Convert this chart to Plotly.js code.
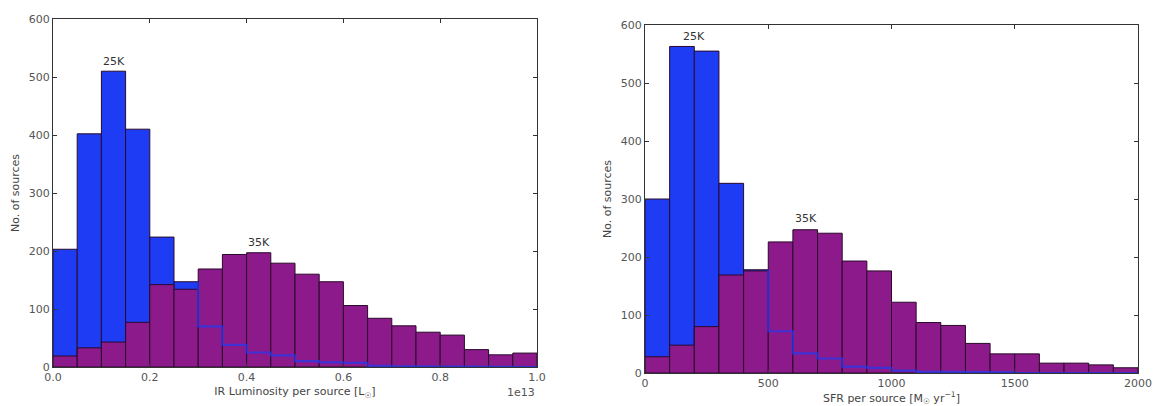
<!DOCTYPE html>
<html>
<head>
<meta charset="utf-8">
<script src="https://cdn.plot.ly/plotly-3.0.1.min.js"></script>
<style>html,body{margin:0;padding:0;background:#fff;}#chart{width:1161px;height:406px;}</style>
</head>
<body>
<div id="chart"></div>
<script>
// ---- Data ----
// Left panel: IR luminosity per source, bin edges in units of 1e13 L_sun
const lirEdges = [0.0,0.05,0.10,0.15,0.20,0.25,0.30,0.35,0.40,0.45,0.50,0.55,0.60,0.65,0.70,0.75,0.80,0.85,0.90,0.95,1.00];
const lir25K = [203,402,510,410,224,147,70,38,25,20,10,8,7,2,1,1,1,0,0,0];
const lir35K = [19,33,43,77,142,134,169,194,197,179,160,147,106,84,71,60,55,30,21,24];

// Right panel: SFR per source [M_sun/yr]
const sfrEdges = [0,100,200,300,400,500,600,700,800,900,1000,1100,1200,1300,1400,1500,1600,1700,1800,1900,2000];
const sfr25K = [300,563,555,327,178,72,34,25,11,9,4,2,2,1,1,0,0,0,0,0];
const sfr35K = [28,48,80,169,176,226,247,241,193,176,122,87,82,51,33,33,17,17,14,9];

const labels = {left:{a:"25K", b:"35K"}, right:{a:"25K", b:"35K"}};

// ---- Styles ----
const BLUE = "#1e3cf4";
const PURPLE = "#8d1a8b";
const EDGE = "#2a0a2a";
const FONT = "DejaVu Sans, sans-serif";
const TICKC = "#555";

function centers(e){ const c=[]; for(let i=0;i<e.length-1;i++) c.push((e[i]+e[i+1])/2); return c; }
function widths(e){ const w=[]; for(let i=0;i<e.length-1;i++) w.push(e[i+1]-e[i]); return w; }
// blue outline visible through the purple where 25K < 35K
function stepLine(e, a, b){
  let start = a.findIndex((v,i)=> v < b[i]);
  const xs=[], ys=[];
  if(start<0) return {x:xs,y:ys};
  xs.push(e[start]); ys.push(a[start-1] !== undefined ? Math.min(a[start-1], b[start]) : a[start]);
  for(let i=start;i<a.length;i++){ xs.push(e[i]); ys.push(a[i]); xs.push(e[i+1]); ys.push(a[i]); }
  return {x:xs,y:ys};
}

function panel(e, a, b, xa, ya){
  const c = centers(e), w = widths(e);
  const s = stepLine(e, a, b);
  return [
    {type:"bar", x:c, y:a, width:w, xaxis:xa, yaxis:ya, marker:{color:BLUE, line:{color:EDGE, width:1}}, hoverinfo:"x+y", showlegend:false},
    {type:"bar", x:c, y:b, width:w, xaxis:xa, yaxis:ya, marker:{color:PURPLE, line:{color:EDGE, width:1}}, hoverinfo:"x+y", showlegend:false},
    {type:"scatter", mode:"lines", x:s.x, y:s.y, xaxis:xa, yaxis:ya, line:{color:BLUE, width:2.2}, opacity:0.7, hoverinfo:"skip", showlegend:false}
  ];
}

const data = [].concat(
  panel(lirEdges, lir25K, lir35K, "x", "y"),
  panel(sfrEdges, sfr25K, sfr35K, "x2", "y2")
);

const W=1161, H=406;
function ax(extra){
  return Object.assign({
    showline:true, mirror:"ticks", linecolor:"#333", linewidth:1,
    ticks:"inside", ticklen:4, tickcolor:"#333", tickwidth:1,
    showgrid:false, zeroline:false, automargin:false,
    tickfont:{family:FONT, size:11, color:TICKC}
  }, extra);
}

const layout = {
  width:W, height:H,
  margin:{l:0,r:0,t:0,b:0},
  paper_bgcolor:"#fff", plot_bgcolor:"#fff",
  barmode:"overlay", bargap:0,
  font:{family:FONT, color:"#444"},
  xaxis: ax({domain:[53/W, 537/W], anchor:"y", range:[0,1], dtick:0.2, tick0:0, tickformat:".1f",
    title:{text:"IR Luminosity per source [L<sub>☉</sub>]", font:{family:FONT,size:11,color:"#444"}, standoff:4}}),
  yaxis: ax({domain:[1-367/H, 1-19/H], anchor:"x", range:[0,600], dtick:100,
    title:{text:"No. of sources", font:{family:FONT,size:11,color:"#444"}, standoff:6}}),
  xaxis2: ax({domain:[645/W, 1138/W], anchor:"y2", range:[0,2000], dtick:500, tick0:0,
    title:{text:"SFR per source [M<sub>☉</sub> yr<sup>−1</sup>]", font:{family:FONT,size:11,color:"#444"}, standoff:4}}),
  yaxis2: ax({domain:[1-373/H, 1-25/H], anchor:"x2", range:[0,600], dtick:100,
    title:{text:"No. of sources", font:{family:FONT,size:11,color:"#444"}, standoff:6}}),
  annotations:[
    {xref:"x", yref:"y", x:0.125, y:512, text:labels.left.a, showarrow:false, yanchor:"bottom", font:{family:FONT,size:11,color:"#333"}},
    {xref:"x", yref:"y", x:0.425, y:200, text:labels.left.b, showarrow:false, yanchor:"bottom", font:{family:FONT,size:11,color:"#333"}},
    {xref:"x2", yref:"y2", x:200, y:565, text:labels.right.a, showarrow:false, yanchor:"bottom", font:{family:FONT,size:11,color:"#333"}},
    {xref:"x2", yref:"y2", x:655, y:252, text:labels.right.b, showarrow:false, yanchor:"bottom", font:{family:FONT,size:11,color:"#333"}},
    {xref:"paper", yref:"paper", x:537/W, y:1-384/H, text:"1e13", showarrow:false, xanchor:"right", yanchor:"top", font:{family:FONT,size:11,color:TICKC}}
  ]
};

Plotly.newPlot("chart", data, layout, {staticPlot:true, displayModeBar:false});
</script>
</body>
</html>
